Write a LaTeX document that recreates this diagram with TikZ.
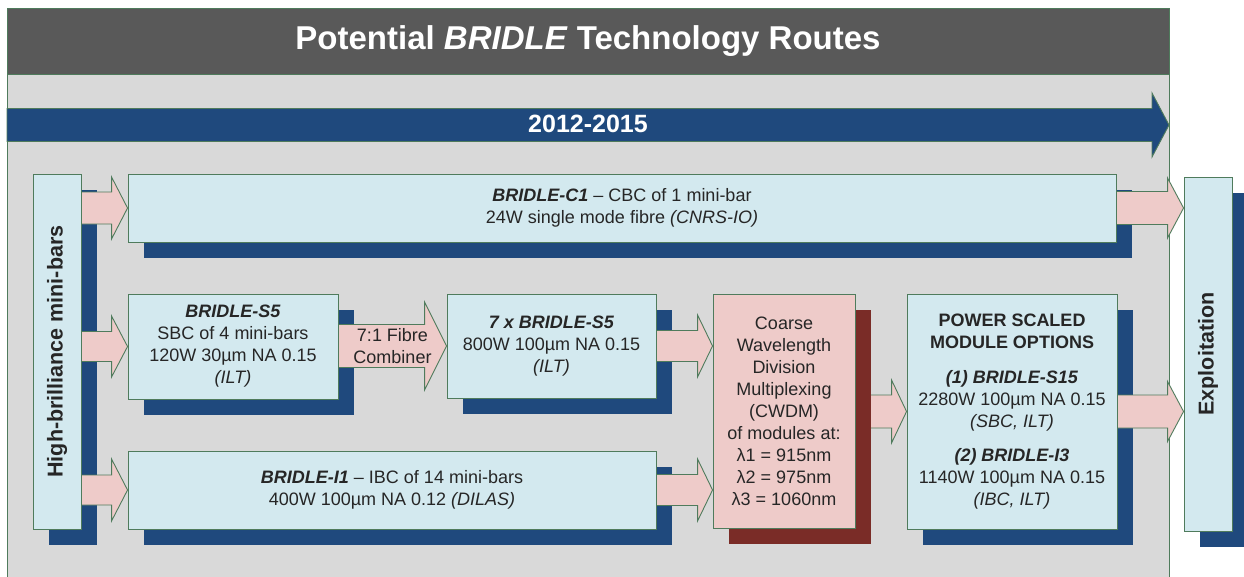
\documentclass[tikz,border=0pt]{standalone}
\usepackage{fontspec}
\setmainfont{Liberation Sans}
\usetikzlibrary{calc}

\definecolor{panelgrey}{HTML}{D9D9D9}
\definecolor{bandgrey}{HTML}{595959}
\definecolor{navy}{HTML}{1F497D}
\definecolor{boxfill}{HTML}{D3E9EF}
\definecolor{pinkfill}{HTML}{EECBC9}
\definecolor{maroon}{HTML}{7A2C27}
\definecolor{edge}{HTML}{4F7B5C}
\definecolor{ink}{HTML}{262626}

\pgfdeclarelayer{panel}
\pgfdeclarelayer{lowarrow}
\pgfdeclarelayer{shadow}
\pgfdeclarelayer{arrows}
\pgfsetlayers{panel,lowarrow,shadow,arrows,main}

% block arrow: [options]{start}{tip}{body half height}{head half height}{head length}
\newcommand{\blockarrow}[6][]{%
  \draw[blockarrow,#1] let \p1=(#2), \p2=(#3) in
    (\x1,\y2+#4) -- (\x2-#6,\y2+#4) -- (\x2-#6,\y2+#5) -- (\x2,\y2)
    -- (\x2-#6,\y2-#5) -- (\x2-#6,\y2-#4) -- (\x1,\y2-#4) -- cycle;}

% drop shadow behind a node
\newcommand{\dropshadow}[2]{%
  \fill[#2] ($(#1.north west)+(16,16)$) rectangle ($(#1.south east)+(16,16)$);}

\begin{document}
\begin{tikzpicture}[x=1pt,y=-1pt,
  box/.style={draw=edge, line width=0.9pt, fill=boxfill, inner sep=0pt,
    text=ink, align=center, font=\fontsize{18}{22}\selectfont},
  sidelabel/.style={text=ink, inner sep=0pt, font=\fontsize{21.5}{24}\selectfont\bfseries},
  blockarrow/.style={draw=edge, line width=0.9pt, fill=pinkfill, line join=miter}]
\useasboundingbox (0,0) rectangle (1244,576);

% grey panel with its title band
\begin{pgfonlayer}{panel}
  \fill[white] (0,0) rectangle (1244,576);
  \fill[panelgrey] (7,8) rectangle (1169,600);
  \draw[edge, line width=0.9pt] (7,8) rectangle (1169,600);
\end{pgfonlayer}
\node[draw=edge, line width=0.9pt, fill=bandgrey, minimum width=1162pt,
  minimum height=66pt, inner sep=0pt, text=white,
  font=\fontsize{33}{36}\selectfont\bfseries] (title) at (588,41)
  {Potential \textit{BRIDLE} Technology Routes};

% time line
\coordinate (tl0) at (7,125);
\coordinate (tl1) at (1169,125);
\node[text=white, inner sep=0pt, font=\fontsize{25}{28}\selectfont\bfseries]
  (year) at (588,124) {2012-2015};

% boxes
\node[box, minimum width=48pt, minimum height=355pt] (hb) at (57,351.5) {};
\node[sidelabel, rotate=90] (hblabel) at (hb.center) {High-brilliance mini-bars};

\node[box, minimum width=988pt, minimum height=68pt] (c1) at (622,208)
  {\textbf{\textit{BRIDLE-C1}} – CBC of 1 mini-bar\\24W single mode fibre \textit{(CNRS-IO)}};

\node[box, minimum width=210pt, minimum height=105pt] (s5) at (233,346.5)
  {\textbf{\textit{BRIDLE-S5}}\\SBC of 4 mini-bars\\120W 30µm NA 0.15\\\textit{(ILT)}};

\node[box, minimum width=209pt, minimum height=104pt] (s5x7) at (551.5,346)
  {\textbf{\textit{7 x BRIDLE-S5}}\\800W 100µm NA 0.15\\\textit{(ILT)}};

\node[box, minimum width=528pt, minimum height=78pt] (i1) at (392,490)
  {\textbf{\textit{BRIDLE-I1}} – IBC of 14 mini-bars\\400W 100µm NA 0.12 \textit{(DILAS)}};

\node[box, fill=pinkfill, minimum width=142pt, minimum height=234pt] (cwdm) at (784,411)
  {Coarse\\Wavelength\\Division\\Multiplexing\\(CWDM)\\of modules at:\\λ1 = 915nm\\λ2 = 975nm\\λ3 = 1060nm};

\node[box, minimum width=210pt, minimum height=235pt] (psm) at (1012,411.5)
  {\textbf{POWER SCALED}\\\textbf{MODULE OPTIONS}\\[13pt]
   \textbf{\textit{(1) BRIDLE-S15}}\\2280W 100µm NA 0.15\\\textit{(SBC, ILT)}\\[12pt]
   \textbf{\textit{(2) BRIDLE-I3}}\\1140W 100µm NA 0.15\\\textit{(IBC, ILT)}};

\node[box, minimum width=48pt, minimum height=354pt] (expl) at (1208,354) {};
\node[sidelabel, rotate=90] (expllabel) at (expl.center) {Exploitation};

\node[text=ink, inner sep=0pt, align=center, font=\fontsize{18}{22}\selectfont]
  (fibrelabel) at ($(s5.east)!0.5!(s5x7.west)$) {7:1 Fibre\\Combiner};

% shadows
\begin{pgfonlayer}{shadow}
  \foreach \n in {hb,c1,s5,s5x7,i1,psm,expl} {\dropshadow{\n}{navy}}
  \dropshadow{cwdm}{maroon}
\end{pgfonlayer}

% connectors
\begin{pgfonlayer}{lowarrow}
  \blockarrow{cwdm.east}{psm.west}{16.5pt}{31.5pt}{15pt}
\end{pgfonlayer}
\begin{pgfonlayer}{arrows}
  \blockarrow[fill=navy]{tl0}{tl1}{16.5pt}{32pt}{17pt}
  \blockarrow{hb.east |- c1.west}{c1.west}{16pt}{31pt}{16pt}
  \blockarrow{hb.east |- s5.west}{s5.west}{15pt}{30.5pt}{16pt}
  \blockarrow{hb.east |- i1.west}{i1.west}{15pt}{31pt}{16pt}
  \blockarrow{s5.east}{s5x7.west}{21.5pt}{44pt}{22pt}
  \blockarrow{s5x7.east}{cwdm.west |- s5x7.east}{15.5pt}{31pt}{15pt}
  \blockarrow{i1.east}{cwdm.west |- i1.east}{15.5pt}{31pt}{15pt}
  \blockarrow{c1.east}{expl.west |- c1.east}{16.5pt}{30pt}{16pt}
  \blockarrow{psm.east}{expl.west |- psm.east}{16.5pt}{30pt}{16pt}
\end{pgfonlayer}
\end{tikzpicture}
\end{document}
